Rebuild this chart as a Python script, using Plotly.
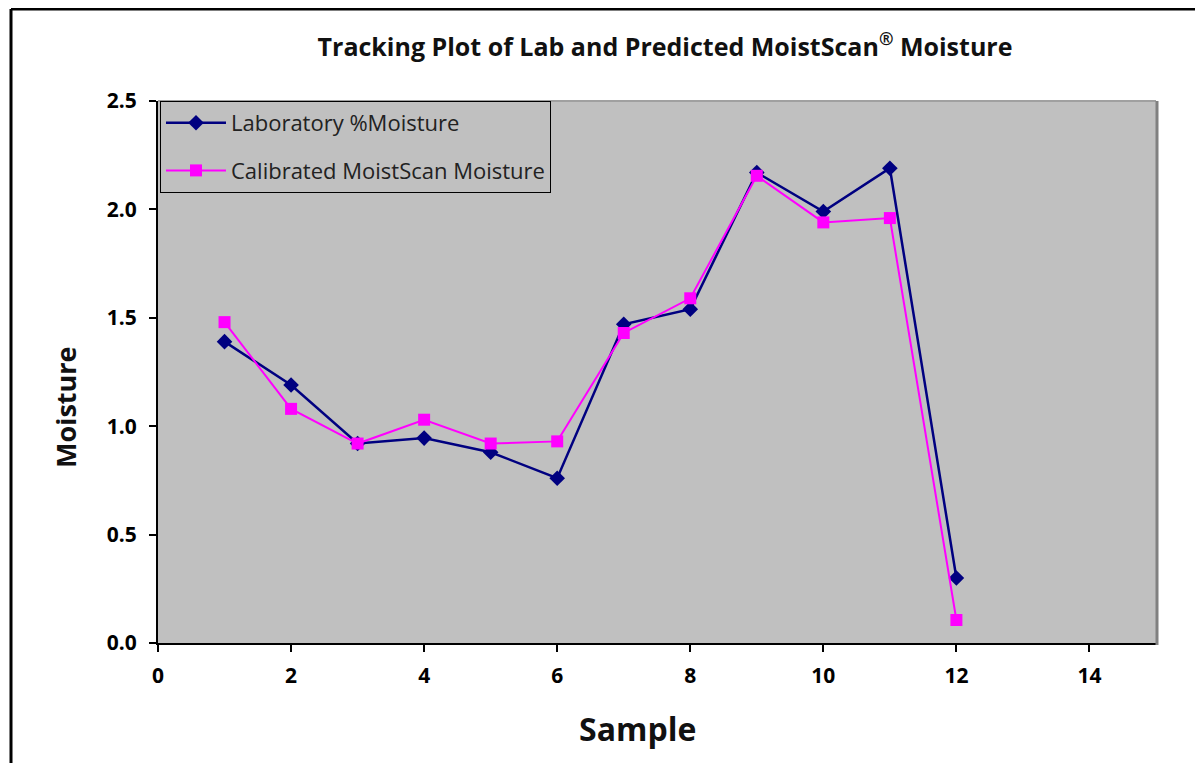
import plotly.graph_objects as go

samples = [1, 2, 3, 4, 5, 6, 7, 8, 9, 10, 11, 12]
lab_moisture = [1.39, 1.19, 0.92, 0.945, 0.88, 0.76, 1.47, 1.54, 2.17, 1.99, 2.19, 0.30]
calibrated_moisture = [1.48, 1.08, 0.92, 1.03, 0.92, 0.93, 1.43, 1.59, 2.155, 1.94, 1.96, 0.106]
x_ticks = [0, 2, 4, 6, 8, 10, 12, 14]
y_ticks = [0.0, 0.5, 1.0, 1.5, 2.0, 2.5]

# page body has an 8px margin, so work in figure coordinates = reference - 8
OFF = 8
W, H = 1203 - OFF, 763 - OFF
L, T = 158 - OFF, 101 - OFF
R = W - (1156 - OFF)
B = H - (643 - OFF)
pw, ph = W - L - R, H - T - B

def px(x):
    return (x - OFF - L) / pw

def py(y):
    return (H - B - (y - OFF)) / ph

fig = go.Figure()
fig.add_trace(go.Scatter(
    x=samples, y=lab_moisture, mode="lines+markers", name="Laboratory %Moisture",
    legendgroup="a",
    line=dict(color="#000080", width=2.5),
    marker=dict(symbol="diamond", size=12, color="#000080"),
))
fig.add_trace(go.Scatter(
    x=samples, y=calibrated_moisture, mode="lines+markers", name="Calibrated MoistScan Moisture",
    legendgroup="b",
    line=dict(color="#FF00FF", width=2),
    marker=dict(symbol="square", size=12, color="#FF00FF"),
))

font_fam = "Open Sans, Liberation Sans, sans-serif"

fig.update_layout(
    width=W, height=H,
    margin=dict(l=L, r=R, t=T, b=B),
    paper_bgcolor="white",
    plot_bgcolor="#C0C0C0",
    title=dict(
        text="<b>Tracking Plot of Lab and Predicted MoistScan<sup>®</sup> Moisture</b>",
        x=(665 - OFF) / W, xanchor="center", y=1 - (47 - OFF) / H, yanchor="middle",
        font=dict(family=font_fam, size=25, color="#111"),
    ),
    xaxis=dict(
        range=[0, 15], tickvals=x_ticks, showgrid=False, zeroline=False,
        showline=True, linecolor="black", linewidth=2,
        ticks="outside", ticklen=7, tickwidth=2, tickcolor="black",
        ticklabelstandoff=6,
        tickfont=dict(family=font_fam, size=21, color="black", weight="bold"),
    ),
    yaxis=dict(
        range=[0, 2.5], tickvals=y_ticks, tickformat=".1f", showgrid=False, zeroline=False,
        showline=True, linecolor="black", linewidth=2,
        ticks="outside", ticklen=7, tickwidth=2, tickcolor="black",
        ticklabelstandoff=8,
        tickfont=dict(family=font_fam, size=21, color="black", weight="bold"),
    ),
    legend=dict(
        x=0.002, y=1.0, xanchor="left", yanchor="top",
        bgcolor="#C0C0C0", bordercolor="black", borderwidth=1,
        font=dict(family=font_fam, size=22, color="#222"),
        itemwidth=60, tracegroupgap=16,
    ),
    showlegend=True,
    annotations=[
        dict(text="<b>Sample</b>", xref="paper", yref="paper", x=px(637), y=py(728),
             xanchor="center", yanchor="middle", showarrow=False,
             font=dict(family=font_fam, size=32, color="#111")),
        dict(text="<b>Moisture</b>", xref="paper", yref="paper", x=px(65), y=py(407),
             xanchor="center", yanchor="middle", showarrow=False, textangle=-90,
             font=dict(family=font_fam, size=27, color="#111")),
    ],
    shapes=[
        dict(type="line", xref="paper", yref="paper", x0=px(11), x1=px(11), y0=py(9), y1=py(780), line=dict(color="black", width=3)),
        dict(type="line", xref="paper", yref="paper", x0=px(11), x1=px(1197), y0=py(9), y1=py(9), line=dict(color="black", width=3)),
        dict(type="line", xref="paper", yref="paper", x0=px(1197), x1=px(1197), y0=py(9), y1=py(780), line=dict(color="black", width=3)),
        dict(type="line", xref="paper", yref="paper", x0=0, x1=1, y0=1, y1=1, line=dict(color="#A0A0A0", width=2), layer="below"),
        dict(type="line", xref="paper", yref="paper", x0=px(1157), x1=px(1157), y0=py(101), y1=py(645), line=dict(color="#808080", width=3)),
    ],
)

fig.write_html("out.html")
